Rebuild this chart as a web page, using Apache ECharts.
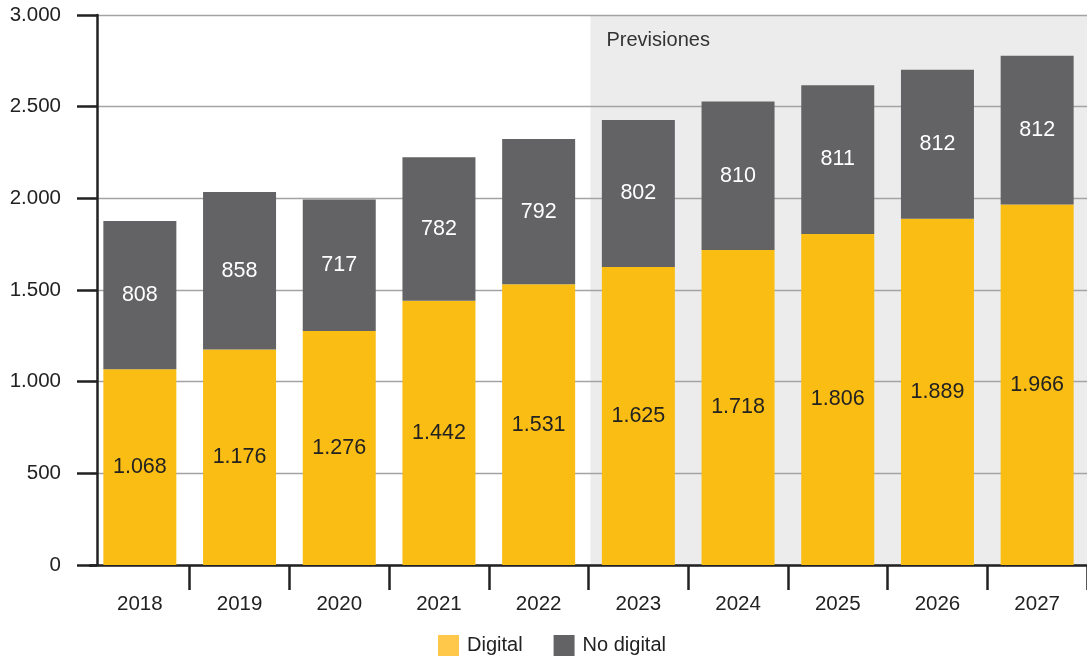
<!DOCTYPE html>
<html>
<head>
<meta charset="utf-8">
<script src="https://cdn.jsdelivr.net/npm/echarts@6/dist/echarts.min.js"></script>
<style>
html,body{margin:0;padding:0;background:#fff;}
#c{width:1087px;height:663px;}
</style>
</head>
<body>
<div id="c"></div>
<script>
const years = ['2018','2019','2020','2021','2022','2023','2024','2025','2026','2027'];
const digital = [1068, 1176, 1276, 1442, 1531, 1625, 1718, 1806, 1889, 1966];
const noDigital = [808, 858, 717, 782, 792, 802, 810, 811, 812, 812];
const forecastFrom = '2023';
const forecastLabel = 'Previsiones';
const seriesNames = ['Digital', 'No digital'];

const FONT = 'Liberation Sans, Arial, Helvetica, sans-serif';
const fmt = v => String(v).replace(/\B(?=(\d{3})+(?!\d))/g, '.');

const chart = echarts.init(document.getElementById('c'), null, {renderer:'canvas'});
chart.setOption({
  animation: false,
  textStyle: {fontFamily: FONT},
  grid: {left: 90, right: -3, top: 15, bottom: 98, containLabel: false},
  legend: {
    bottom: 2, left: 433, itemWidth: 21, itemHeight: 21, itemGap: 31,
    icon: 'rect',
    textStyle: {fontSize: 20, color: '#222', fontFamily: FONT, padding: [0,0,0,3]},
    data: [
      {name: seriesNames[0], itemStyle: {color: '#FFC84A'}},
      {name: seriesNames[1], itemStyle: {color: '#636365'}}
    ]
  },
  xAxis: {
    type: 'category', data: years,
    axisLine: {lineStyle: {color: '#222', width: 2.5}},
    axisTick: {show: true, length: 25, lineStyle: {color: '#222', width: 2.5}},
    axisLabel: {fontSize: 20.5, color: '#222', margin: 29, fontFamily: FONT}
  },
  yAxis: {
    type: 'value', min: 0, max: 3000, interval: 500, offset: -7,
    axisLine: {show: true, lineStyle: {color: '#222', width: 2.5}},
    axisTick: {show: true, length: 20, lineStyle: {color: '#222', width: 2.5}},
    axisLabel: {fontSize: 20.5, color: '#222', margin: 36, formatter: fmt, fontFamily: FONT},
    splitLine: {lineStyle: {color: '#a3a3a3', width: 1.3}}
  },
  series: [
    {
      name: seriesNames[0], type: 'bar', stack: 's', barWidth: 73, data: digital,
      itemStyle: {color: '#FABD14'},
      label: {show: true, position: 'inside', formatter: p => fmt(p.value), fontSize: 21.5, color: '#222', fontFamily: FONT}
    },
    {
      name: seriesNames[1], type: 'bar', stack: 's', barWidth: 73, data: noDigital,
      itemStyle: {color: '#636365'},
      label: {show: true, position: 'inside', formatter: p => fmt(p.value), fontSize: 21.5, color: '#fff', fontFamily: FONT}
    }
  ]
});

// forecast shading from the start of the forecast category band to the end of the grid
const idx = years.indexOf(forecastFrom);
const x0 = chart.convertToPixel({xAxisIndex: 0}, idx);
const x1 = chart.convertToPixel({xAxisIndex: 0}, idx + 1);
const band = x1 - x0;
const left = x0 - band / 2 + 2;
const yTop = chart.convertToPixel({yAxisIndex: 0}, 3000);
const yBot = chart.convertToPixel({yAxisIndex: 0}, 0);
const firstEdge = chart.convertToPixel({xAxisIndex: 0}, 0) - band / 2;
chart.setOption({
  graphic: {elements: [
    {type: 'rect', z: -100, silent: true,
     shape: {x: left, y: yTop + 1, width: 1087 - left, height: yBot - yTop - 1},
     style: {fill: '#ececec'}},
    {type: 'text', z: 100, silent: true, x: left + 16, y: yTop + 25,
     style: {text: forecastLabel, fill: '#333', font: '20px ' + FONT, verticalAlign: 'middle'}},
    // hide the outer-left category boundary tick (the reference has none there)
    {type: 'rect', z: 100, silent: true,
     shape: {x: firstEdge - 3, y: yBot + 2, width: 6, height: 28},
     style: {fill: '#fff'}}
  ]}
});
</script>
</body>
</html>
